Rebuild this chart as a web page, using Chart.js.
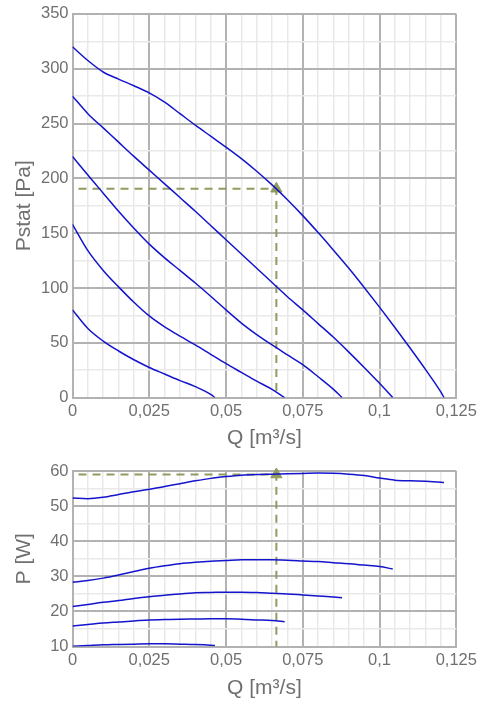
<!DOCTYPE html>
<html><head><meta charset="utf-8">
<script src="https://cdn.jsdelivr.net/npm/chart.js@4/dist/chart.umd.min.js"></script>
<style>
html,body{margin:0;padding:0;background:#fff;overflow:hidden}
#c1{position:absolute;left:0;top:0}
#c2{position:absolute;left:0;top:455px}
</style></head>
<body>
<canvas id="c1" width="486" height="455"></canvas>
<canvas id="c2" width="486" height="252"></canvas>
<script>
// Flow rates (m³/s) for each fan curve
const Q1 = [0,0.005,0.01,0.015,0.02,0.025,0.03,0.035,0.04,0.045,0.05,0.055,0.06,0.065,0.07,0.075,0.08,0.085,0.09,0.095,0.1,0.105,0.11,0.115,0.12,0.121];
const Q2 = [0,0.005,0.01,0.015,0.02,0.025,0.03,0.035,0.04,0.045,0.05,0.055,0.06,0.065,0.07,0.075,0.08,0.085,0.09,0.095,0.1,0.1043];
const Q3 = [0,0.005,0.01,0.015,0.02,0.025,0.03,0.035,0.04,0.045,0.05,0.055,0.06,0.065,0.07,0.075,0.08,0.085,0.0878];
const Q4 = [0,0.005,0.01,0.015,0.02,0.025,0.03,0.035,0.04,0.045,0.05,0.055,0.06,0.065,0.0691];
const Q5 = [0,0.005,0.01,0.015,0.02,0.025,0.03,0.035,0.04,0.045,0.0464];

// Static pressure (Pa)
const PS1 = [320,307.5,297,290.5,284.5,278,269.5,259,248.5,238.5,228.5,218,206.5,194,180.5,166,150.5,134.5,118,100.5,82.5,64,45,25.5,5,0];
const PS2 = [275,259,246,233,220,207.5,195,182.5,170,157,144,131,118,105,92,80,67.5,55,41.5,27.5,13,0];
const PS3 = [220,203,186.5,170,154.5,140,127.5,116,104.5,92.5,80,68,57.5,48,39,30,19,7.5,0];
const PS4 = [158,134,116,101,87,74.5,64.5,56,48,39.5,31,23,15,7.5,0];
const PS5 = [80,63,51.5,42.5,34.5,27.5,21.5,15.5,10,3,0];

// Power (W)
const PW1 = [52.3,52.1,52.5,53.3,54.1,54.8,55.6,56.4,57.2,57.9,58.4,58.8,59.0,59.1,59.2,59.3,59.4,59.35,59.1,58.7,58.0,57.4,57.2,57.1,56.8,56.7];
const PW2 = [28.3,28.8,29.5,30.4,31.4,32.3,33.0,33.6,34.0,34.3,34.5,34.7,34.75,34.7,34.6,34.4,34.2,33.9,33.6,33.2,32.8,32.1];
const PW3 = [21.4,22.0,22.6,23.1,23.7,24.2,24.6,25.0,25.3,25.4,25.5,25.5,25.4,25.2,25.0,24.7,24.4,24.1,23.9];
const PW4 = [15.9,16.3,16.7,17.0,17.3,17.6,17.7,17.8,17.85,17.9,17.9,17.8,17.6,17.4,17.1];
const PW5 = [10.1,10.3,10.5,10.6,10.7,10.8,10.8,10.7,10.6,10.4,10.3];

// Operating point
const OP_Q = 0.0664;
const OP_P = 190.5;
const OP_W = 59;

// Axis settings
const X_MIN = 0, X_MAX = 0.125, X_STEP = 0.005;
const YP_MIN = 0, YP_MAX = 350, YP_STEP = 25;
const YW_MIN = 10, YW_MAX = 60, YW_STEP = 5;
const X_TITLE = 'Q [m³/s]';
const YP_TITLE = 'Pstat [Pa]';
const YW_TITLE = 'P [W]';

const QS = [Q1,Q2,Q3,Q4,Q5];
const PSS = [PS1,PS2,PS3,PS4,PS5];
const PWS = [PW1,PW2,PW3,PW4,PW5];

const BLUE = '#1414cc';
const OLIVE = '#8f9c5e';
const MAJ = '#b2b2b2';
const MIN = '#e9e9e9';
const TXT = '#707070';

Chart.defaults.font.family = '"Liberation Sans", Arial, sans-serif';
Chart.defaults.font.size = 16.5;
Chart.defaults.color = TXT;

const isMajorQ = v => Math.round(v * 1000) % 25 === 0;
const fmtQ = v => String(Math.round(v * 1000) / 1000).replace('.', ',');

function curveSets(ys) {
  return QS.map((q, i) => ({
    data: q.map((x, j) => ({x: x, y: ys[i][j]})),
    borderColor: BLUE, borderWidth: 1.5, pointRadius: 0,
    cubicInterpolationMode: 'monotone', fill: false, order: 1
  }));
}
function opSet(yv, ybase) {
  return {
    data: [{x: 0, y: yv}, {x: OP_Q, y: yv}, {x: OP_Q, y: ybase}],
    borderColor: OLIVE, borderWidth: 2, borderDash: [8, 6], borderDashOffset: 8,
    pointRadius: [0, 6.5, 0], pointStyle: 'triangle',
    pointBackgroundColor: OLIVE, pointBorderColor: OLIVE, pointBorderWidth: 1,
    tension: 0, clip: false, order: 2, fill: false
  };
}
function makeOptions(ymin, ymax, ystep, ymajor, ytitle, pad, xh) {
  return {
    responsive: false, animation: false,
    layout: {padding: pad},
    plugins: {legend: {display: false}, tooltip: {enabled: false}},
    scales: {
      x: {
        type: 'linear', min: X_MIN, max: X_MAX,
        afterFit: s => { s.height = xh; },
        ticks: {stepSize: X_STEP, autoSkip: false, maxRotation: 0, padding: 4,
                callback: v => isMajorQ(v) ? fmtQ(v) : ''},
        grid: {drawTicks: false,
               color: c => (c.tick && isMajorQ(c.tick.value)) ? MAJ : MIN,
               lineWidth: c => (c.tick && isMajorQ(c.tick.value)) ? 2 : 1.5},
        border: {color: MAJ, width: 2},
        title: {display: true, text: X_TITLE, font: {size: 21}, color: TXT}
      },
      y: {
        type: 'linear', min: ymin, max: ymax,
        afterFit: s => { s.width = 64.5; },
        ticks: {stepSize: ystep, autoSkip: false, padding: 4,
                callback: v => (Math.round(v) % ymajor === 0) ? String(v) : ''},
        grid: {drawTicks: false,
               color: c => (c.tick && Math.round(c.tick.value) % ymajor === 0) ? MAJ : MIN,
               lineWidth: c => (c.tick && Math.round(c.tick.value) % ymajor === 0) ? 2 : 1.5},
        border: {color: MAJ, width: 2},
        title: {display: true, text: ytitle, font: {size: 21}, color: TXT}
      }
    }
  };
}

new Chart(document.getElementById('c1'), {
  type: 'line',
  data: {datasets: [opSet(OP_P, YP_MIN)].concat(curveSets(PSS))},
  options: makeOptions(YP_MIN, YP_MAX, YP_STEP, 50, YP_TITLE,
                       {top: 13.3, right: 29.7, bottom: 0, left: 8}, 57.4)
});
new Chart(document.getElementById('c2'), {
  type: 'line',
  data: {datasets: [opSet(OP_W, YW_MIN)].concat(curveSets(PWS))},
  options: makeOptions(YW_MIN, YW_MAX, YW_STEP, 10, YW_TITLE,
                       {top: 16, right: 29.7, bottom: 2, left: 8}, 58.4)
});
</script>
</body></html>
